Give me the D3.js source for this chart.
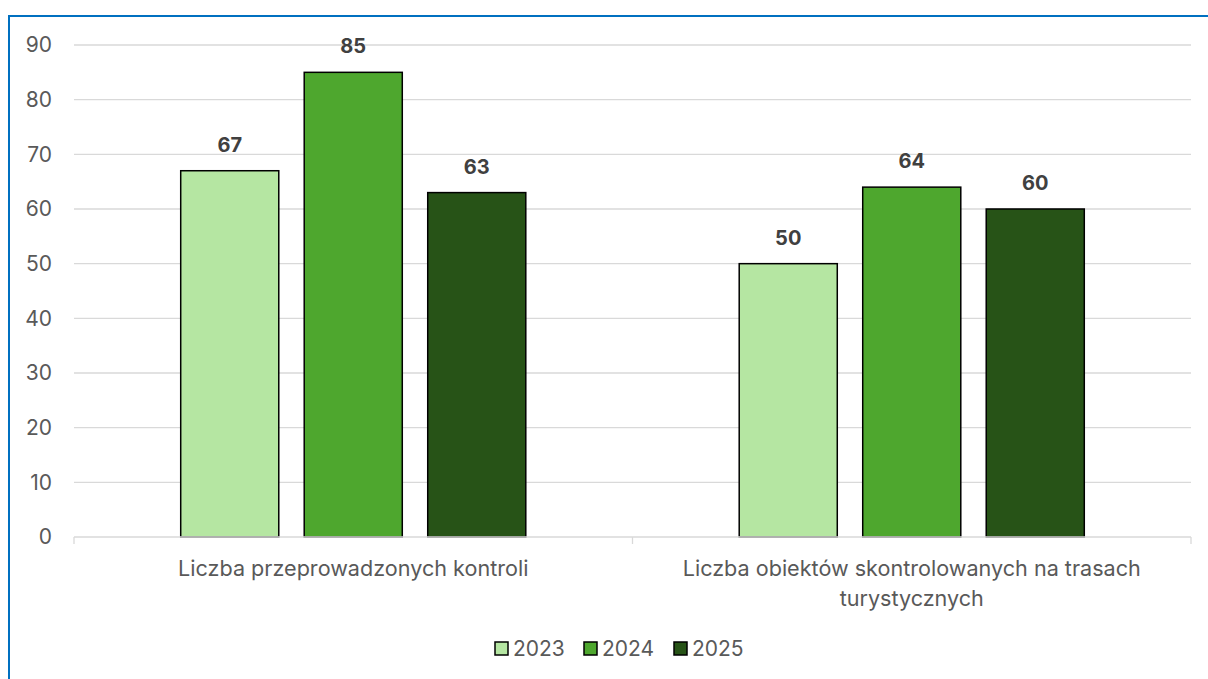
<!DOCTYPE html>
<html>
<head>
<meta charset="utf-8">
<script src="https://cdn.jsdelivr.net/npm/d3@7"></script>
<style>
  body { margin: 0; background: #fff; }
  svg { display: block; font-family: Inter, "Noto Sans", sans-serif; }
</style>
</head>
<body>
<svg id="chart"></svg>
<script>
const categories = ["Liczba przeprowadzonych kontroli", "Liczba obiektów skontrolowanych na trasach turystycznych"];
const categoryLines = [["Liczba przeprowadzonych kontroli"], ["Liczba obiektów skontrolowanych na trasach", "turystycznych"]];
const years = ["2023", "2024", "2025"];
const values2023 = [67, 50];
const values2024 = [85, 64];
const values2025 = [63, 60];
const yTicks = [0, 10, 20, 30, 40, 50, 60, 70, 80, 90];
const colors = ["#b5e6a2", "#4ea72e", "#275317"];

const width = 1208, height = 679;
const margin = { top: 45, right: 17, bottom: 142, left: 74 };

const series = [values2023, values2024, values2025];
const rows = [];
categories.forEach((c, i) => years.forEach((y, j) => rows.push({ cat: c, year: y, value: series[j][i], color: colors[j] })));

const svg = d3.select("#chart").attr("width", width).attr("height", height);

// border
svg.append("path")
    .attr("d", `M9,${height + 5}V16H${width + 5}`)
    .attr("fill", "none")
    .attr("stroke", "#0070c0")
    .attr("stroke-width", 2);

const x0 = d3.scaleBand()
    .domain(categories)
    .range([margin.left, width - margin.right]);

const x1 = d3.scaleBand()
    .domain(years)
    .range([0, x0.bandwidth()])
    .paddingInner(0.206)
    .paddingOuter(0.864);

const y = d3.scaleLinear()
    .domain([0, 90])
    .range([height - margin.bottom, margin.top]);

// grid
svg.append("g")
    .selectAll("line")
    .data(yTicks.slice(1))
    .join("line")
    .attr("x1", margin.left)
    .attr("x2", width - margin.right)
    .attr("y1", d => y(d))
    .attr("y2", d => y(d))
    .attr("stroke", "#d9d9d9")
    .attr("stroke-width", 1.3);

// y labels
svg.append("g")
    .selectAll("text")
    .data(yTicks)
    .join("text")
    .attr("x", 52)
    .attr("y", d => y(d))
    .attr("dy", "0.35em")
    .attr("text-anchor", "end")
    .attr("font-size", 21)
    .attr("fill", "#595959")
    .text(d => d);

// bars
svg.append("g")
    .selectAll("rect")
    .data(rows)
    .join("rect")
    .attr("x", d => x0(d.cat) + x1(d.year))
    .attr("y", d => y(d.value))
    .attr("width", x1.bandwidth())
    .attr("height", d => y(0) - y(d.value))
    .attr("fill", d => d.color)
    .attr("stroke", "#000")
    .attr("stroke-width", 1.5);

// value labels
svg.append("g")
    .selectAll("text")
    .data(rows)
    .join("text")
    .attr("x", d => x0(d.cat) + x1(d.year) + x1.bandwidth() / 2)
    .attr("y", d => y(d.value) - 19)
    .attr("text-anchor", "middle")
    .attr("font-size", 20)
    .attr("font-weight", "bold")
    .attr("fill", "#404040")
    .text(d => d.value);

// x axis
const xAxis = svg.append("g");
xAxis.append("line")
    .attr("x1", margin.left).attr("x2", width - margin.right)
    .attr("y1", y(0)).attr("y2", y(0))
    .attr("stroke", "#d9d9d9").attr("stroke-width", 1.3);
const edges = categories.map(c => x0(c)).concat([x0.range()[1]]);
xAxis.selectAll(".tick")
    .data(edges)
    .join("line")
    .attr("x1", d => d).attr("x2", d => d)
    .attr("y1", y(0)).attr("y2", y(0) + 7)
    .attr("stroke", "#d9d9d9").attr("stroke-width", 1.3);

xAxis.selectAll(".cat")
    .data(categories)
    .join("text")
    .attr("text-anchor", "middle")
    .attr("font-size", 21.6)
    .attr("fill", "#595959")
    .each(function (d, i) {
        d3.select(this).selectAll("tspan")
            .data(categoryLines[i])
            .join("tspan")
            .attr("x", x0(d) + x0.bandwidth() / 2)
            .attr("y", (l, k) => 576 + k * 30)
            .text(l => l);
    });

// legend
const legendX = [495, 584, 674];
const legend = svg.append("g")
    .selectAll("g")
    .data(years)
    .join("g")
    .attr("transform", (d, i) => `translate(${legendX[i]},642)`);
legend.append("rect")
    .attr("width", 13).attr("height", 13)
    .attr("fill", (d, i) => colors[i])
    .attr("stroke", "#000").attr("stroke-width", 1.5);
legend.append("text")
    .attr("x", 18).attr("y", 6.5).attr("dy", "0.35em")
    .attr("font-size", 21).attr("fill", "#595959")
    .text(d => d);
</script>
</body>
</html>
